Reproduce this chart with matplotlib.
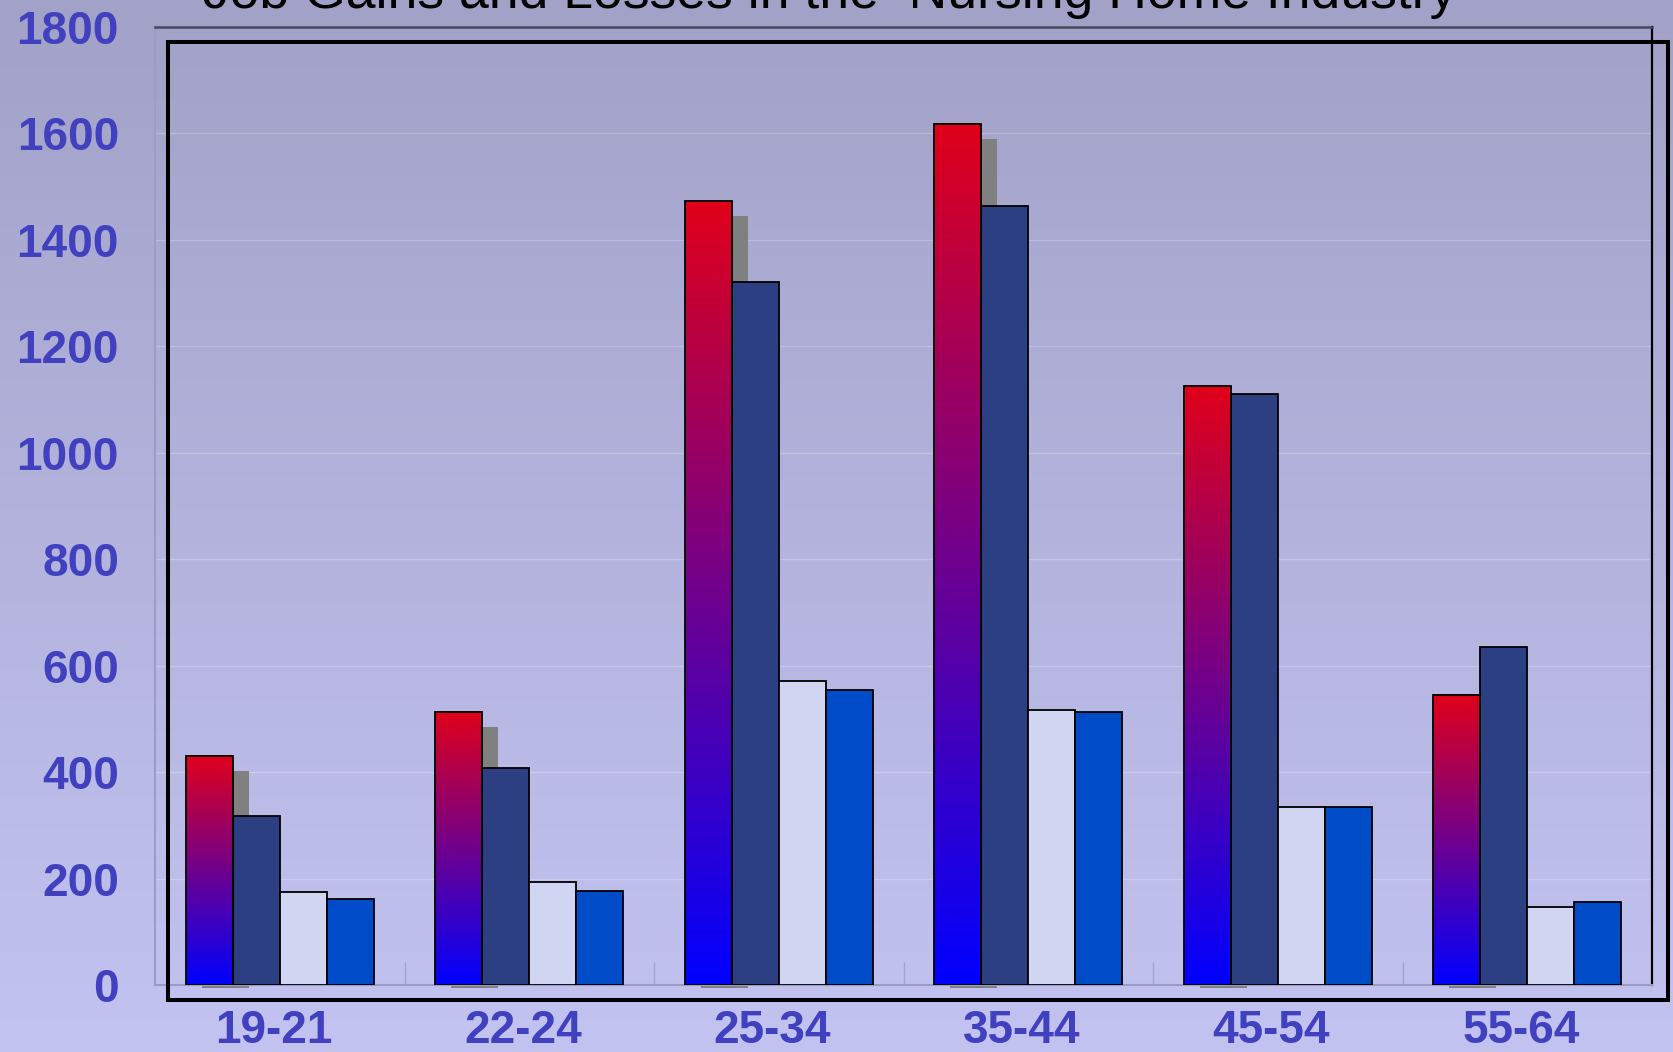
import numpy as np
import matplotlib
matplotlib.use("Agg")
import matplotlib.pyplot as plt
import matplotlib.transforms as mtransforms
from matplotlib.colors import LinearSegmentedColormap
from matplotlib.patches import Rectangle

plt.rcParams['font.family'] = ['Liberation Sans', 'DejaVu Sans']

# canvas size in pixels
W, H = 1673, 1052
DPI = 100

# data
age_groups = ["19-21", "22-24", "25-34", "35-44", "45-54", "55-64"]
gains_a = [431, 513, 1473, 1618, 1125, 545]
gains_b = [318, 407, 1321, 1464, 1111, 635]
losses_a = [174, 194, 571, 517, 335, 146]
losses_b = [162, 176, 555, 513, 335, 156]
y_ticks = [0, 200, 400, 600, 800, 1000, 1200, 1400, 1600, 1800]
title = "Job Gains and Losses in the  Nursing Home Industry"

label_color = '#4141bf'
bar_w = 0.188

fig = plt.figure(figsize=(W / DPI, H / DPI), dpi=DPI)

# background: vertical lavender gradient
bg_cmap = LinearSegmentedColormap.from_list('bg', ['#a2a2c8', '#c3c3f2'])
bg = fig.add_axes([0, 0, 1, 1], zorder=-10)
bg.imshow(np.linspace(0, 1, 256).reshape(-1, 1), cmap=bg_cmap,
          aspect='auto', extent=[0, 1, 0, 1])
bg.axis('off')

ax = fig.add_axes([155 / W, 67 / H, 1497 / W, 958 / H])
ax.set_facecolor('none')

x = np.arange(len(age_groups))
x0 = x - 2 * bar_w

# grey drop shadow behind the first bar of each group
shift = 16 / 249.5
ax.bar(x0 + shift, np.array(gains_a) - 28 + 5, bottom=-5, width=bar_w,
       align='edge', color='#808080', zorder=1, clip_on=False)

# first series: red-to-blue gradient fill
red_cmap = LinearSegmentedColormap.from_list('rb', ['#0000ff', '#e0001a'])
grad = np.linspace(0, 1, 256).reshape(-1, 1)
for xi, v in zip(x0, gains_a):
    ax.imshow(grad, cmap=red_cmap, origin='lower', aspect='auto',
              extent=[xi, xi + bar_w, 0, v], zorder=3)
ax.bar(x0, gains_a, width=bar_w, align='edge', facecolor='none',
       edgecolor='black', linewidth=1.3, zorder=4)

ax.bar(x0 + bar_w, gains_b, width=bar_w, align='edge', color='#2b3f82',
       edgecolor='black', linewidth=1.3, zorder=3)
ax.bar(x0 + 2 * bar_w, losses_a, width=bar_w, align='edge', color='#d0d5f2',
       edgecolor='black', linewidth=1.3, zorder=3)
ax.bar(x0 + 3 * bar_w, losses_b, width=bar_w, align='edge', color='#004bc8',
       edgecolor='black', linewidth=1.3, zorder=3)

ax.set_xlim(-0.5, len(age_groups) - 0.5)
ax.set_ylim(0, 1800)

ax.set_yticks(y_ticks)
ax.set_yticklabels([str(t) for t in y_ticks])
ax.set_xticks(x)
ax.set_xticklabels(age_groups)
ax.set_xticks(np.arange(0.5, len(age_groups) - 0.5, 1), minor=True)

ax.tick_params(axis='y', length=0, pad=26, labelsize=33, labelcolor=label_color)
ax.tick_params(axis='x', which='major', length=0, pad=17, labelsize=33,
               labelcolor=label_color)
ax.tick_params(axis='x', which='minor', direction='in', length=16.5,
               width=1, color='#a4a4d4')

# category labels sit a little left of the group centres
nudge = mtransforms.ScaledTranslation(-6.4 / DPI, 0, fig.dpi_scale_trans)
for lab in ax.get_xticklabels():
    lab.set_fontweight('bold')
    lab.set_transform(lab.get_transform() + nudge)
for lab in ax.get_yticklabels():
    lab.set_fontweight('bold')

ax.yaxis.grid(True, color='white', alpha=0.22, linewidth=1)
ax.set_axisbelow(True)

ax.spines['top'].set_color('#46465e')
ax.spines['top'].set_linewidth(1.8)
ax.spines['right'].set_color('black')
ax.spines['right'].set_linewidth(1.6)
ax.spines['left'].set_color('#9c9cc8')
ax.spines['left'].set_linewidth(1.5)
ax.spines['bottom'].set_color('#9a9ac6')
ax.spines['bottom'].set_linewidth(1.5)

# offset black frame around the plot
fig.add_artist(Rectangle((168 / W, 1 - 1000 / H), 1500 / W, 958 / H,
                         transform=fig.transFigure, fill=False,
                         edgecolor='black', linewidth=2.9, zorder=20))

fig.text(203 / W, 1 - 8 / H, title, ha='left', va='baseline',
         fontsize=38.5, color='black')

fig.savefig('out.png', dpi=DPI)
